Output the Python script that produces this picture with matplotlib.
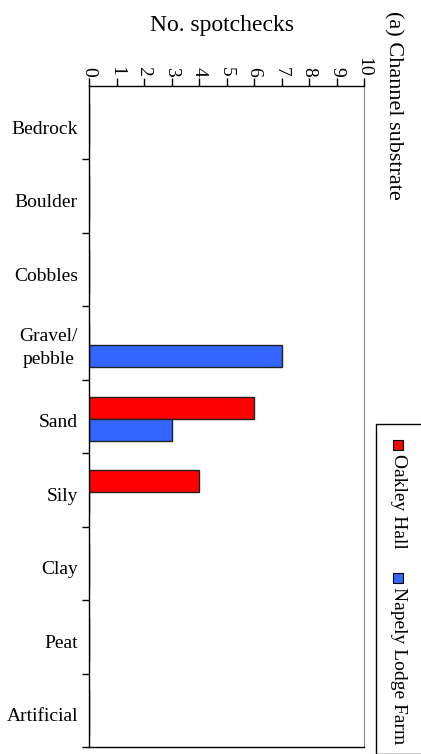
import matplotlib
matplotlib.use("Agg")
import matplotlib.pyplot as plt
from matplotlib.patches import Rectangle
import numpy as np

categories = ["Bedrock", "Boulder", "Cobbles", "Gravel/\npebble", "Sand",
              "Sily", "Clay", "Peat", "Artificial"]
oakley_hall = [0, 0, 0, 0, 6, 4, 0, 0, 0]
napely_lodge = [0, 0, 0, 7, 3, 0, 0, 0, 0]
series_names = ["Oakley Hall", "Napely Lodge Farm"]
series_colors = ["#ff0000", "#3366ff"]
x_ticks = list(range(0, 11))

plt.rcParams["font.family"] = ["Liberation Serif", "DejaVu Serif"]

W, H = 421, 754
fig = plt.figure(figsize=(W / 100, H / 100), dpi=100)
ax = fig.add_axes([89 / W, 7 / H, (364 - 89) / W, (747 - 86) / H])

pos = np.arange(len(categories))
bh = 0.30
ax.barh(pos - 0.12, oakley_hall, height=bh, color=series_colors[0],
        edgecolor="#222222", linewidth=1.0)
ax.barh(pos + 0.18, napely_lodge, height=bh, color=series_colors[1],
        edgecolor="#222222", linewidth=1.0)

ax.set_ylim(len(categories) - 0.5, -0.5)
ax.set_xlim(0, 10)

ax.xaxis.tick_top()
ax.set_xticks(x_ticks)
ax.set_xticklabels([str(t) for t in x_ticks], rotation=-90, fontsize=14)
ax.tick_params(axis="x", direction="out", length=5.5, width=1, pad=1.5)

ax.set_yticks(pos + 0.5, minor=False)
ax.set_yticklabels([])
ax.tick_params(axis="y", direction="out", length=5, width=1)
# single-line labels sit a touch low; two-line labels centred on the band
label_pos = [p + (0.0 if "\n" in c else 0.06) for p, c in zip(pos, categories)]
ax.set_yticks(label_pos, minor=True)
ax.set_yticklabels(categories, minor=True, fontsize=14, ha="right",
                   multialignment="center", linespacing=1.45)
ax.tick_params(axis="y", which="minor", length=0, pad=8)

ax.spines["right"].set_color("#888888")
for s in ["left", "top", "bottom"]:
    ax.spines[s].set_color("black")
    ax.spines[s].set_linewidth(1.0)

fig.text(222 / W, 1 - 25 / H, "No. spotchecks", ha="center", va="center",
         fontsize=17)
fig.text(393 / W, 1 - 11 / H, "(a) Channel substrate", ha="center",
         va="top", rotation=-90, fontsize=16)

# legend drawn in figure pixels, rotated to read downward
fig.patches.append(Rectangle((376 / W, 0), 60 / W, (754 - 424) / H,
                             transform=fig.transFigure, facecolor="white",
                             edgecolor="black", linewidth=1.0))
entries = [(440, 454), (573, 587)]
for (sq_top, txt_top), name, col in zip(entries, series_names, series_colors):
    fig.patches.append(Rectangle((393 / W, 1 - (sq_top + 10) / H), 10 / W, 10 / H,
                                 transform=fig.transFigure, facecolor=col,
                                 edgecolor="black", linewidth=0.8))
    fig.text(398 / W, 1 - txt_top / H, name, ha="center", va="top",
             rotation=-90, fontsize=14)

fig.savefig("out.png", dpi=100)
